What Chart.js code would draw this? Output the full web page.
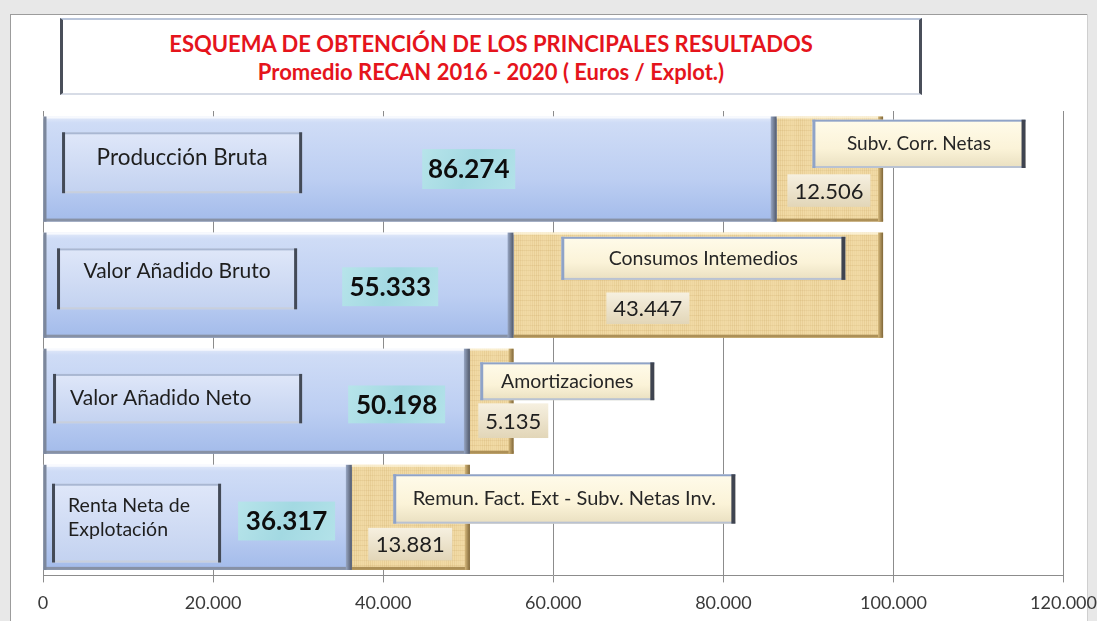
<!DOCTYPE html>
<html>
<head>
<meta charset="utf-8">
<script src="https://cdn.jsdelivr.net/npm/chart.js@4.4.1/dist/chart.umd.min.js"></script>
<style>
html, body { margin: 0; padding: 0; width: 1097px; height: 621px; overflow: hidden; background: #e8e8e8; font-family: Lato, sans-serif; position: relative; }
#panel { position: absolute; left: 10px; top: 14px; width: 1076px; height: 610px; background: #fff; border-top: 1px solid #9c9c9c; border-left: 1px solid #9c9c9c; box-shadow: 1px 0 0 #cfcfcf; }
#chart { position: absolute; left: 0; top: 0; }
#titleBox {
    position: absolute; left: 60px; top: 18px; width: 862px; height: 77px; box-sizing: border-box;
    background: #fff; border-top: 2px solid #b9c5da; border-bottom: 2px solid #d7dce6;
    border-left: 3px solid #4a4f5a; border-right: 3px solid #4a4f5a;
    text-align: center; color: #e5141c; font-weight: bold; font-size: 22px; line-height: 28px; padding-top: 10px;
}
</style>
</head>
<body>
<div id="panel"></div>
<canvas id="chart" width="1107" height="626"></canvas>
<div id="titleBox">ESQUEMA DE OBTENCIÓN DE LOS PRINCIPALES RESULTADOS<br>Promedio RECAN 2016 - 2020 ( Euros / Explot.)</div>
<script>
// data
const categories = ['Producción Bruta', 'Valor Añadido Bruto', 'Valor Añadido Neto', ['Renta Neta de', 'Explotación']];
const mainValues = [86274, 55333, 50198, 36317];
const restLabels = ['Subv. Corr. Netas', 'Consumos Intemedios', 'Amortizaciones', 'Remun. Fact. Ext - Subv. Netas Inv.'];
const restValues = [12506, 43447, 5135, 13881];
const xTicks = [0, 20000, 40000, 60000, 80000, 100000, 120000];

// layout of the text boxes: x in axis units, y as fraction of the bar thickness
const nameBoxes = [
    { x1: 2240, x2: 30470, y1: .15, y2: .73, ty: .39, align: 'center', size: 22.5 },
    { x1: 1650, x2: 29880, y1: .15, y2: .73, ty: .37, align: 'center', size: 21 },
    { x1: 1180, x2: 30470, y1: .24, y2: .71, ty: .47, align: 'left', pad: 17, size: 21 },
    { x1: 1060, x2: 20940, y1: .18, y2: .93, ty: .50, align: 'left', pad: 16, size: 19.5 }
];
const mainValueBoxes = [
    { x1: 44590, x2: 55530, y1: .31, y2: .69 },
    { x1: 35180, x2: 46470, y1: .33, y2: .70 },
    { x1: 35880, x2: 47290, y1: .35, y2: .71 },
    { x1: 22940, x2: 34350, y1: .35, y2: .72 }
];
const restBoxes = [
    { x1: 90470, x2: 115530, y1: .03, y2: .49, size: 19 },
    { x1: 60940, x2: 94350, y1: .04, y2: .45, size: 19.5 },
    { x1: 51410, x2: 71880, y1: .13, y2: .49, size: 19.5 },
    { x1: 41180, x2: 81410, y1: .09, y2: .56, size: 20 }
];
const restValueBoxes = [
    { x1: 87530, x2: 97290, y1: .55, y2: .86 },
    { x1: 66240, x2: 76000, y1: .57, y2: .87 },
    { x1: 51180, x2: 59410, y1: .52, y2: .85 },
    { x1: 38240, x2: 48120, y1: .60, y2: .91 }
];

const BAR_PCT = 0.905;
const fmt = v => String(v).replace(/\B(?=(\d{3})+(?!\d))/g, '.');

// papyrus-like texture for the second series
function papyrusCanvas() {
    const c = document.createElement('canvas');
    c.width = 66; c.height = 50;
    const g = c.getContext('2d');
    g.fillStyle = '#f1daa5';
    g.fillRect(0, 0, 66, 50);
    for (let i = 0; i < 66; i += 2) {
        g.fillStyle = 'rgba(200,160,90,' + (0.04 + 0.16 * Math.abs(Math.sin(i * 1.37))) + ')';
        g.fillRect(i, 0, 1, 50);
    }
    for (let j = 0; j < 50; j += 5) {
        g.fillStyle = 'rgba(185,145,75,' + (0.05 + 0.10 * Math.abs(Math.cos(j * 2.3))) + ')';
        g.fillRect(0, j, 66, 1);
    }
    return c;
}
const papyrus = papyrusCanvas();

function barBounds(chart, i) {
    const y = chart.scales.y;
    const step = Math.abs(y.getPixelForValue(1) - y.getPixelForValue(0));
    const h = step * BAR_PCT;
    const c = y.getPixelForValue(i);
    return { top: c - h / 2, h: h };
}

function blueFill(context) {
    const chart = context.chart;
    if (!chart.chartArea) return '#bccff1';
    const b = barBounds(chart, context.dataIndex);
    const g = chart.ctx.createLinearGradient(0, b.top, 0, b.top + b.h);
    g.addColorStop(0, '#e3eafa');
    g.addColorStop(0.06, '#cfdcf6');
    g.addColorStop(0.6, '#bccef2');
    g.addColorStop(1, '#a3bbea');
    return g;
}

function tanFill(context) {
    return context.chart.ctx.createPattern(papyrus, 'repeat');
}

function drawBox(ctx, x1, y1, x2, y2, fill, topC, botC, leftC, rightC, lw, rw) {
    ctx.fillStyle = fill;
    ctx.fillRect(x1, y1, x2 - x1, y2 - y1);
    ctx.fillStyle = topC; ctx.fillRect(x1, y1, x2 - x1, 2);
    ctx.fillStyle = botC; ctx.fillRect(x1, y2 - 2, x2 - x1, 2);
    ctx.fillStyle = leftC; ctx.fillRect(x1, y1, lw, y2 - y1);
    ctx.fillStyle = rightC; ctx.fillRect(x2 - rw, y1, rw, y2 - y1);
}

const decor = {
    id: 'decor',
    afterDatasetsDraw(chart) {
        const ctx = chart.ctx;
        const xs = chart.scales.x;
        ctx.save();

        // bevels on the bars
        chart.getDatasetMeta(0).data.forEach(el => {
            const p = el.getProps(['x', 'y', 'base', 'height'], true);
            const top = p.y - p.height / 2, h = p.height, l = p.base, r = p.x;
            ctx.fillStyle = 'rgba(255,255,255,0.75)'; ctx.fillRect(l, top, r - l, 2);
            ctx.fillStyle = '#8791a5'; ctx.fillRect(l, top + h - 3, r - l, 3);
            ctx.fillStyle = '#7c879c'; ctx.fillRect(l, top, 3, h);
            const g = ctx.createLinearGradient(r - 6, 0, r, 0);
            g.addColorStop(0, '#98a7c4'); g.addColorStop(1, '#4f5768');
            ctx.fillStyle = g; ctx.fillRect(r - 6, top, 6, h);
        });
        chart.getDatasetMeta(1).data.forEach(el => {
            const p = el.getProps(['x', 'y', 'base', 'height'], true);
            const top = p.y - p.height / 2, h = p.height, l = p.base, r = p.x;
            ctx.fillStyle = 'rgba(255,250,230,0.7)'; ctx.fillRect(l, top, r - l, 2);
            ctx.fillStyle = '#ad9057'; ctx.fillRect(l, top + h - 3, r - l, 3);
            const g = ctx.createLinearGradient(r - 5, 0, r, 0);
            g.addColorStop(0, '#d4b77a'); g.addColorStop(1, '#7f6638');
            ctx.fillStyle = g; ctx.fillRect(r - 5, top, 5, h);
        });

        ctx.textBaseline = 'middle';
        for (let i = 0; i < categories.length; i++) {
            const b = barBounds(chart, i);
            const Y = f => b.top + f * b.h;

            // category name box
            const nb = nameBoxes[i];
            const nx1 = xs.getPixelForValue(nb.x1), nx2 = xs.getPixelForValue(nb.x2);
            const ng = ctx.createLinearGradient(0, Y(nb.y1), 0, Y(nb.y2));
            ng.addColorStop(0, '#dfe7f9'); ng.addColorStop(1, '#c3d2f0');
            drawBox(ctx, nx1, Y(nb.y1), nx2, Y(nb.y2), ng, '#a9b7d2', '#c8cfdc', '#434a57', '#434a57', 3, 3);
            ctx.fillStyle = '#1e1e1e';
            ctx.font = nb.size + 'px Lato';
            const lines = Array.isArray(categories[i]) ? categories[i] : [categories[i]];
            lines.forEach((t, k) => {
                const ty = Y(nb.ty) + (k - (lines.length - 1) / 2) * 24;
                if (nb.align === 'center') { ctx.textAlign = 'center'; ctx.fillText(t, (nx1 + nx2) / 2, ty); }
                else { ctx.textAlign = 'left'; ctx.fillText(t, nx1 + nb.pad, ty); }
            });

            // main value box (teal)
            const vb = mainValueBoxes[i];
            const vx1 = xs.getPixelForValue(vb.x1), vx2 = xs.getPixelForValue(vb.x2);
            const vg = ctx.createLinearGradient(vx1, Y(vb.y1), vx2, Y(vb.y2));
            vg.addColorStop(0, '#b7e4ea'); vg.addColorStop(0.5, '#a3d9e2'); vg.addColorStop(1, '#b3e2e9');
            ctx.fillStyle = vg;
            ctx.fillRect(vx1, Y(vb.y1), vx2 - vx1, Y(vb.y2) - Y(vb.y1));
            ctx.fillStyle = '#0d0d0d';
            ctx.font = 'bold 26px Lato';
            ctx.textAlign = 'center';
            ctx.fillText(fmt(mainValues[i]), (vx1 + vx2) / 2, (Y(vb.y1) + Y(vb.y2)) / 2 + 1);

            // second series label box (cream)
            const rb = restBoxes[i];
            const rx1 = xs.getPixelForValue(rb.x1), rx2 = xs.getPixelForValue(rb.x2);
            const rg = ctx.createLinearGradient(0, Y(rb.y1), 0, Y(rb.y2));
            rg.addColorStop(0, '#fffbea'); rg.addColorStop(0.6, '#fbf3d8'); rg.addColorStop(1, '#e9dfc0');
            drawBox(ctx, rx1, Y(rb.y1), rx2, Y(rb.y2), rg, '#8fa3c8', '#b9c2d2', '#8fa3c8', '#3f4450', 3, 4);
            ctx.fillStyle = '#262626';
            ctx.font = rb.size + 'px Lato';
            ctx.fillText(restLabels[i], (rx1 + rx2) / 2, (Y(rb.y1) + Y(rb.y2)) / 2);

            // second series value box
            const sb = restValueBoxes[i];
            const sx1 = xs.getPixelForValue(sb.x1), sx2 = xs.getPixelForValue(sb.x2);
            const sg = ctx.createLinearGradient(0, Y(sb.y1), 0, Y(sb.y2));
            sg.addColorStop(0, '#f6f0e0'); sg.addColorStop(1, '#e2d6b8');
            ctx.fillStyle = sg;
            ctx.fillRect(sx1, Y(sb.y1), sx2 - sx1, Y(sb.y2) - Y(sb.y1));
            ctx.fillStyle = '#1e1e1e';
            ctx.font = '22px Lato';
            ctx.fillText(fmt(restValues[i]), (sx1 + sx2) / 2, (Y(sb.y1) + Y(sb.y2)) / 2 + 1);
        }
        ctx.restore();
    }
};

new Chart(document.getElementById('chart').getContext('2d'), {
    type: 'bar',
    data: {
        labels: categories,
        datasets: [{
            label: 'Resultado',
            data: mainValues,
            backgroundColor: blueFill,
            borderWidth: 0,
            barPercentage: BAR_PCT,
            categoryPercentage: 1
        }, {
            label: 'Diferencia',
            data: restValues,
            backgroundColor: tanFill,
            borderWidth: 0,
            barPercentage: BAR_PCT,
            categoryPercentage: 1
        }]
    },
    options: {
        indexAxis: 'y',
        responsive: false,
        animation: false,
        layout: { padding: { left: 43, right: 26, top: 111, bottom: 2 } },
        plugins: { legend: { display: false }, tooltip: { enabled: false }, title: { display: false } },
        scales: {
            x: {
                stacked: true,
                min: 0,
                max: 120000,
                afterBuildTicks: axis => { axis.ticks = xTicks.map(v => ({ value: v })); },
                ticks: { callback: v => fmt(v), color: '#3a3a3a', font: { family: 'Lato', size: 18 }, padding: 10, maxRotation: 0 },
                grid: { color: '#8c8c8c', lineWidth: 1, tickLength: 7, drawOnChartArea: true },
                border: { display: true, color: '#8c8c8c', width: 1 }
            },
            y: {
                stacked: true,
                display: false
            }
        }
    },
    plugins: [decor]
});
</script>
</body>
</html>
